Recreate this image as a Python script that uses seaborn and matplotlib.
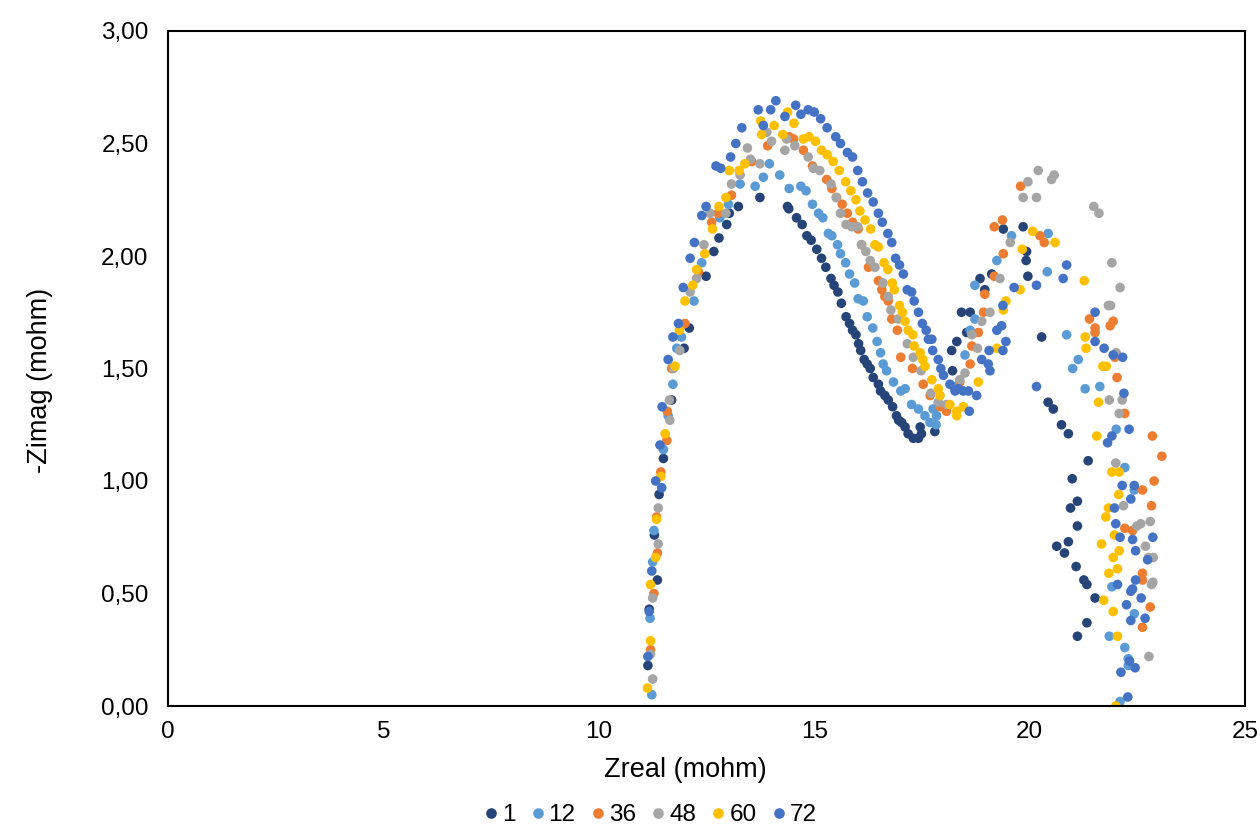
import matplotlib
matplotlib.use("Agg")
import matplotlib.pyplot as plt
from matplotlib.ticker import FuncFormatter
import numpy as np
import pandas as pd
import seaborn as sns

# Impedance spectra (Nyquist), one series per ageing time
series_names = ["1", "12", "36", "48", "60", "72"]
series_colors = ["#264478", "#5B9BD5", "#ED7D31", "#A5A5A5", "#FFC000", "#4472C4"]

pts_1 = [
    (11.14, 0.18), (11.17, 0.43), (11.36, 0.56), (11.29, 0.76), (11.40, 0.94), (11.50, 1.10),
    (11.69, 1.36), (11.98, 1.59), (12.10, 1.68), (12.49, 1.91), (12.67, 2.02), (12.79, 2.08),
    (12.97, 2.14), (13.03, 2.19), (13.24, 2.22), (13.74, 2.26),
    (14.38, 2.22), (14.41, 2.21), (14.59, 2.17), (14.72, 2.14), (14.83, 2.09), (14.93, 2.07),
    (15.06, 2.03), (15.17, 1.99), (15.27, 1.95), (15.39, 1.90), (15.46, 1.87), (15.55, 1.84),
    (15.63, 1.79), (15.74, 1.73), (15.82, 1.70), (15.89, 1.67), (15.97, 1.65), (16.03, 1.61),
    (16.08, 1.58), (16.16, 1.54), (16.23, 1.52), (16.30, 1.50), (16.37, 1.46), (16.49, 1.43),
    (16.54, 1.40), (16.64, 1.38), (16.72, 1.36), (16.82, 1.33), (16.91, 1.29), (16.96, 1.27),
    (17.03, 1.26), (17.11, 1.24), (17.18, 1.21), (17.30, 1.19), (17.42, 1.19), (17.49, 1.21),
    (17.46, 1.24), (17.80, 1.22),
    (18.21, 1.49), (18.19, 1.58), (18.31, 1.62), (18.42, 1.75), (18.54, 1.66), (18.62, 1.75),
    (18.85, 1.90), (18.96, 1.85), (19.12, 1.92), (19.39, 2.12), (19.85, 2.13), (19.93, 2.02),
    (19.92, 1.98), (19.96, 1.91), (20.28, 1.64), (20.43, 1.35), (20.55, 1.32), (20.74, 1.25),
    (20.90, 1.21), (21.36, 1.09), (20.99, 1.01), (21.11, 0.91), (20.95, 0.88), (21.11, 0.80),
    (20.90, 0.73), (20.63, 0.71), (20.81, 0.68), (21.08, 0.62), (21.26, 0.56), (21.33, 0.54),
    (21.52, 0.48), (21.33, 0.37), (21.11, 0.31),
]

pts_12 = [
    (11.23, 0.05), (11.19, 0.39), (11.25, 0.64), (11.28, 0.78), (11.50, 1.14), (11.61, 1.29),
    (11.72, 1.43), (11.81, 1.59), (11.92, 1.64), (12.21, 1.80), (12.39, 1.97), (12.81, 2.17),
    (13.01, 2.23), (13.28, 2.32), (13.63, 2.31), (13.82, 2.35), (13.96, 2.41),
    (14.20, 2.36), (14.42, 2.30), (14.69, 2.31), (14.81, 2.29), (14.96, 2.23), (15.10, 2.19),
    (15.20, 2.17), (15.33, 2.10), (15.41, 2.09), (15.54, 2.05), (15.61, 2.01), (15.73, 1.97),
    (15.82, 1.92), (15.94, 1.88), (16.02, 1.81), (16.14, 1.80), (16.23, 1.73), (16.36, 1.68),
    (16.46, 1.62), (16.54, 1.57), (16.60, 1.52), (16.68, 1.49), (16.84, 1.44), (17.01, 1.40),
    (17.11, 1.41), (17.26, 1.34), (17.42, 1.32), (17.57, 1.29), (17.69, 1.26), (17.83, 1.25),
    (17.84, 1.29), (17.76, 1.32), (17.90, 1.34),
    (18.23, 1.42), (18.50, 1.56), (18.62, 1.67), (18.73, 1.72), (18.73, 1.87), (19.24, 1.98),
    (19.58, 2.09), (20.43, 2.10), (20.41, 1.93), (20.86, 1.65), (21.00, 1.50), (21.13, 1.54),
    (21.29, 1.41), (21.63, 1.42), (22.01, 1.23), (22.21, 1.06), (22.43, 0.96), (22.43, 0.41),
    (21.91, 0.53), (21.85, 0.31), (22.21, 0.26), (22.29, 0.21), (22.29, 0.18), (22.10, 0.02),
]

pts_36 = [
    (11.20, 0.25), (11.28, 0.50), (11.36, 0.68), (11.34, 0.84), (11.44, 1.04), (11.58, 1.18),
    (11.59, 1.31), (11.69, 1.50), (12.00, 1.70), (12.31, 1.93), (12.62, 2.15), (12.77, 2.19),
    (13.08, 2.27), (13.55, 2.42), (13.92, 2.49),
    (14.42, 2.53), (14.52, 2.52), (14.75, 2.47), (14.96, 2.40), (15.29, 2.34), (15.41, 2.30),
    (15.52, 2.26), (15.65, 2.23), (15.77, 2.19), (15.89, 2.15), (16.02, 2.12), (16.10, 2.05),
    (16.26, 1.95), (16.49, 1.89), (16.57, 1.85), (16.64, 1.82), (16.72, 1.80), (16.80, 1.72),
    (16.93, 1.67), (17.01, 1.55), (17.28, 1.50), (17.53, 1.43), (17.69, 1.38), (17.92, 1.33),
    (18.07, 1.31),
    (18.38, 1.44), (18.62, 1.52), (18.66, 1.60), (18.81, 1.66), (18.93, 1.75), (18.96, 1.83),
    (19.18, 1.91), (19.39, 2.01), (19.18, 2.13), (19.37, 2.16), (19.79, 2.31), (20.24, 2.09),
    (20.34, 2.06), (21.39, 1.72), (21.52, 1.68), (21.52, 1.66), (21.87, 1.69), (21.94, 1.71),
    (21.98, 1.55), (22.03, 1.46), (22.21, 1.30), (22.85, 1.20), (23.07, 1.11), (22.89, 1.00),
    (22.62, 0.96), (22.83, 0.89), (22.21, 0.79), (22.39, 0.78), (22.62, 0.59), (22.62, 0.56),
    (22.80, 0.44), (22.62, 0.35),
]

pts_48 = [
    (11.25, 0.12), (11.20, 0.23), (11.25, 0.48), (11.38, 0.72), (11.38, 0.88), (11.65, 1.27),
    (11.64, 1.36), (11.73, 1.50), (11.88, 1.58), (12.12, 1.84), (12.27, 1.90), (12.44, 2.05),
    (12.58, 2.19), (12.95, 2.19), (13.08, 2.32), (13.28, 2.36), (13.45, 2.48), (13.52, 2.43),
    (13.74, 2.41), (13.90, 2.55), (14.01, 2.51),
    (14.32, 2.47), (14.36, 2.52), (14.55, 2.49), (14.86, 2.44), (14.98, 2.39), (15.13, 2.38),
    (15.39, 2.32), (15.51, 2.26), (15.61, 2.19), (15.74, 2.14), (15.87, 2.13), (16.01, 2.13),
    (16.10, 2.05), (16.20, 2.02), (16.30, 1.98), (16.41, 1.95), (16.60, 1.88), (16.72, 1.82),
    (16.78, 1.76), (16.95, 1.72), (17.16, 1.61), (17.30, 1.55), (17.48, 1.49), (17.71, 1.39),
    (17.88, 1.35), (18.07, 1.34),
    (18.38, 1.45), (18.50, 1.48), (18.66, 1.65), (18.79, 1.59), (18.89, 1.71), (19.08, 1.75),
    (19.31, 1.90), (19.55, 2.06), (19.85, 2.26), (19.96, 2.33), (20.16, 2.26), (20.20, 2.38),
    (20.51, 2.34), (20.57, 2.36), (21.49, 2.22), (21.61, 2.19), (21.91, 1.97), (22.10, 1.86),
    (21.83, 1.78), (21.88, 1.78), (22.01, 1.57), (21.85, 1.36), (22.15, 1.36), (22.08, 1.30),
    (22.00, 1.08), (22.18, 0.89), (22.49, 0.80), (22.58, 0.81), (22.80, 0.82), (22.69, 0.71),
    (22.76, 0.66), (22.87, 0.66), (22.86, 0.55), (22.83, 0.54), (22.77, 0.22),
]

pts_60 = [
    (11.13, 0.08), (11.20, 0.29), (11.20, 0.54), (11.32, 0.66), (11.34, 0.83), (11.44, 1.02),
    (11.54, 1.21), (11.77, 1.51), (11.87, 1.67), (12.00, 1.80), (12.18, 1.87), (12.27, 1.94),
    (12.46, 2.01), (12.64, 2.12), (12.79, 2.22), (12.95, 2.26), (13.03, 2.38), (13.26, 2.38),
    (13.39, 2.41), (13.78, 2.54), (13.76, 2.60), (14.07, 2.58),
    (14.27, 2.54), (14.38, 2.64), (14.53, 2.59), (14.75, 2.52), (14.88, 2.53), (15.03, 2.51),
    (15.17, 2.47), (15.30, 2.45), (15.44, 2.42), (15.58, 2.38), (15.73, 2.33), (15.85, 2.29),
    (15.97, 2.25), (16.06, 2.20), (16.18, 2.16), (16.31, 2.12), (16.41, 2.05), (16.49, 2.04),
    (16.62, 1.97), (16.71, 1.94), (16.81, 1.88), (16.86, 1.85), (16.98, 1.78), (17.05, 1.75),
    (17.11, 1.71), (17.18, 1.67), (17.29, 1.65), (17.32, 1.60), (17.46, 1.57), (17.52, 1.54),
    (17.57, 1.51), (17.73, 1.45), (17.88, 1.41), (17.92, 1.38), (18.15, 1.34), (18.31, 1.31),
    (18.31, 1.29), (18.46, 1.33),
    (18.81, 1.44), (19.24, 1.59), (19.39, 1.76), (19.45, 1.80), (19.78, 1.85), (19.83, 2.03),
    (20.07, 2.11), (20.59, 2.06), (21.27, 1.89), (21.29, 1.64), (21.31, 1.59), (21.70, 1.51),
    (21.78, 1.51), (21.56, 1.20), (21.60, 1.35), (21.91, 1.04), (22.08, 1.04), (22.07, 0.94),
    (21.83, 0.88), (21.77, 0.84), (21.97, 0.76), (21.67, 0.72), (22.08, 0.69), (21.94, 0.66),
    (22.04, 0.61), (21.84, 0.59), (21.72, 0.47), (21.94, 0.42), (22.04, 0.31), (22.00, 0.00),
]

pts_72 = [
    (11.14, 0.22), (11.17, 0.42), (11.23, 0.60), (11.46, 0.97), (11.32, 1.00), (11.42, 1.16),
    (11.47, 1.33), (11.61, 1.54), (11.72, 1.64), (11.85, 1.70), (11.96, 1.86), (12.12, 1.99),
    (12.22, 2.06), (12.39, 2.18), (12.49, 2.22), (12.72, 2.40), (12.83, 2.39), (13.06, 2.44),
    (13.18, 2.50), (13.32, 2.57), (13.70, 2.65), (13.82, 2.58), (13.99, 2.65), (14.11, 2.69),
    (14.32, 2.62), (14.57, 2.67), (14.69, 2.63), (14.86, 2.65), (15.00, 2.64), (15.15, 2.61),
    (15.30, 2.57), (15.50, 2.53), (15.61, 2.50), (15.77, 2.46), (15.89, 2.44), (16.01, 2.38),
    (16.12, 2.33), (16.24, 2.28), (16.37, 2.24), (16.49, 2.19), (16.58, 2.15), (16.71, 2.10),
    (16.80, 2.06), (16.89, 1.99), (16.98, 1.96), (17.07, 1.92), (17.16, 1.85), (17.26, 1.84),
    (17.32, 1.80), (17.42, 1.75), (17.51, 1.70), (17.60, 1.67), (17.65, 1.63), (17.73, 1.63),
    (17.75, 1.58), (17.88, 1.54), (17.94, 1.50), (18.00, 1.47), (18.15, 1.43), (18.27, 1.40),
    (18.35, 1.41), (18.46, 1.40), (18.58, 1.40), (18.77, 1.38), (18.60, 1.31),
    (18.89, 1.54), (19.04, 1.52), (19.08, 1.49), (19.06, 1.58), (19.24, 1.67), (19.35, 1.69),
    (19.38, 1.78), (19.45, 1.62), (19.38, 1.58), (19.64, 1.86), (20.16, 1.87), (20.78, 1.90),
    (20.86, 1.96), (20.16, 1.42), (21.52, 1.75), (21.52, 1.62), (21.73, 1.59), (21.94, 1.56),
    (22.16, 1.55), (22.19, 1.39), (22.31, 1.23), (21.91, 1.20), (21.81, 1.17), (22.15, 0.98),
    (22.43, 0.98), (22.35, 0.92), (21.97, 0.88), (22.00, 0.81), (22.10, 0.75), (22.39, 0.74),
    (22.86, 0.75), (22.46, 0.69), (22.74, 0.65), (22.04, 0.54), (22.46, 0.56), (22.39, 0.52),
    (22.35, 0.51), (22.59, 0.48), (22.25, 0.45), (22.68, 0.39), (22.35, 0.38), (22.32, 0.20),
    (22.12, 0.15), (22.45, 0.17), (22.28, 0.04),
]

x_ticks = [0, 5, 10, 15, 20, 25]
y_ticks = [0.0, 0.5, 1.0, 1.5, 2.0, 2.5, 3.0]

all_points = [pts_1, pts_12, pts_36, pts_48, pts_60, pts_72]
frames = []
for name, pts in zip(series_names, all_points):
    arr = np.array(pts)
    frames.append(pd.DataFrame({"Zreal": arr[:, 0], "Zimag": arr[:, 1], "series": name}))
df = pd.concat(frames, ignore_index=True)

sns.set_theme(style="white")
plt.rcParams["font.family"] = ["Liberation Sans", "DejaVu Sans"]
plt.rcParams["text.color"] = "#000000"

fig = plt.figure(figsize=(12.6, 8.26), dpi=100)
ax_left, ax_right, ax_top, ax_bottom = 168, 1245, 31, 706
ax = fig.add_axes([ax_left / 1260, 1 - ax_bottom / 826,
                   (ax_right - ax_left) / 1260, (ax_bottom - ax_top) / 826])

sns.scatterplot(
    data=df, x="Zreal", y="Zimag", hue="series", hue_order=series_names,
    palette=dict(zip(series_names, series_colors)), s=48, linewidth=0, ax=ax,
)

ax.set_xlim(0, 25)
ax.set_ylim(0, 3)
ax.set_xticks(x_ticks)
ax.set_yticks(y_ticks)
ax.yaxis.set_major_formatter(FuncFormatter(lambda v, p: f"{v:.2f}".replace(".", ",")))
ax.tick_params(axis="both", length=0, labelsize=17.5, colors="#000000")
ax.tick_params(axis="x", pad=11)
ax.tick_params(axis="y", pad=14)
for sp in ax.spines.values():
    sp.set_visible(True)
    sp.set_color("#000000")
    sp.set_linewidth(1.5)

ax.set_xlabel("Zreal (mohm)", fontsize=19.5, color="#000000")
ax.set_ylabel("-Zimag (mohm)", fontsize=19.5, color="#000000")
ax.xaxis.set_label_coords((685 - ax_left) / (ax_right - ax_left), -(770 - ax_bottom) / (ax_bottom - ax_top), transform=ax.transAxes)
ax.yaxis.set_label_coords(-(ax_left - 40) / (ax_right - ax_left), (ax_bottom - 380) / (ax_bottom - ax_top), transform=ax.transAxes)
ax.xaxis.label.set_va("center")
ax.yaxis.label.set_va("center")

sns.move_legend(
    ax, "center", bbox_to_anchor=(0.517, 0.013), bbox_transform=fig.transFigure,
    ncol=6, frameon=False, title=None, fontsize=17.5, markerscale=1.1,
    handlelength=0.4, handletextpad=0.25, columnspacing=0.72, borderaxespad=0,
)

fig.savefig("out.png", dpi=100)
